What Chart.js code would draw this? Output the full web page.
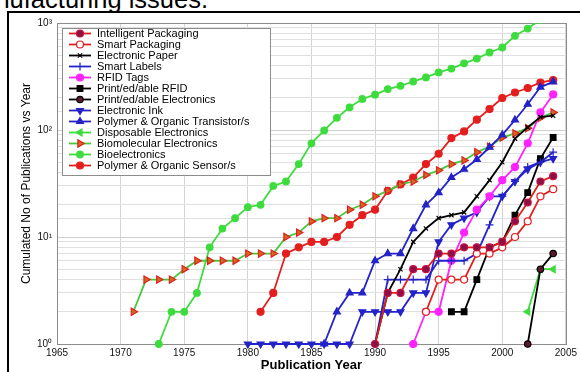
<!DOCTYPE html>
<html><head><meta charset="utf-8">
<script src="https://cdn.jsdelivr.net/npm/chart.js@4.4.0/dist/chart.umd.min.js"></script>
<style>
html,body{margin:0;padding:0;background:#fff;}
body{width:580px;height:372px;overflow:hidden;position:relative;font-family:"Liberation Sans",Arial,sans-serif;}
#top{position:absolute;left:-40px;top:-13px;font-size:25.5px;line-height:25px;white-space:nowrap;color:#000;}
#frame{position:absolute;left:7px;top:11px;width:620px;height:420px;border:2px solid #000;box-sizing:border-box;}
#wrap{position:absolute;left:0;top:0;width:580px;height:372px;}
</style></head><body>
<div id="top">manufacturing issues.</div>
<div id="frame"></div>
<div id="wrap"><canvas id="c" width="580" height="372"></canvas></div>
<script>
// ---- data ----
const seriesNames = ['Intelligent Packaging','Smart Packaging','Electronic Paper','Smart Labels','RFID Tags',
  'Print/ed/able RFID','Print/ed/able Electronics','Electronic Ink','Polymer & Organic Transistor/s',
  'Disposable Electronics','Biomolecular Electronics','Bioelectronics','Polymer & Organic Sensor/s'];
const startYears = [1990,1994,1990,1990,1993,1996,2002,1980,1986,2002,1971,1973,1981];
const intelligentPackaging = [1,3,3,5,5,7,7,8,8,8,9,14,21,33,37];
const smartPackaging = [2,4,4,4,7,7,8,10,14,24,28];
const electronicPaper = [1,3,5,9,12,15,16,17,24,34,50,83,106,132,136];
const smartLabels = [1,4,4,4,4,6,6,6,7,13,24,33,45,50,62];
const rfidTags = [1,2,2,6,11,18,24,34,45,75,146,215];
const printedRfid = [2,2,4,8,9,16,26,54,85];
const printedElectronics = [1,5,7];
const electronicInk = [1,1,1,1,1,1,1,1,1,2,2,2,2,3,3,9,13,15,17,24,24,33,43,50,54];
const transistors = [1,2,3,3,6,7,7,12,20,26,36,43,53,69,90,124,174,252,282];
const disposableElectronics = [2,5,5];
const biomolecularElectronics = [2,4,4,4,5,6,6,6,6,7,7,7,10,11,14,15,15,18,20,24,27,31,33,38,42,48,52,62,70,85,93,104,130,146];
const bioelectronics = [1,2,2,3,8,12,15,19,20,30,33,48,75,99,130,163,195,214,241,259,284,310,345,375,420,465,530,590,759,887,1070,1200];
const sensors = [2,3,7,8,9,9,10,13,16,18,27,31,36,48,60,84,97,125,157,199,224,247,278,293];
const xTickYears = [1965,1970,1975,1980,1985,1990,1995,2000,2005];
const yTickLabels = ['10\u2070','10\u00b9','10\u00b2','10\u00b3'];

const seriesValues = [intelligentPackaging,smartPackaging,electronicPaper,smartLabels,rfidTags,printedRfid,
  printedElectronics,electronicInk,transistors,disposableElectronics,biomolecularElectronics,bioelectronics,sensors];

// ---- styles ----
const RED='#e41e1e', BLUE='#2323c8', GREEN='#3ddc3d', BLACK='#000000', MAG='#ff22ff';
const styles = [
  {line:RED, fill:'#8e0f45', edge:'#c81040', ps:'circle', r:3.5, rot:0},
  {line:RED, fill:'#ffffff', edge:RED, ps:'circle', r:3.5, rot:0},
  {line:BLACK, fill:BLACK, edge:BLACK, ps:'crossRot', r:3, rot:0},
  {line:BLUE, fill:BLUE, edge:BLUE, ps:'cross', r:4, rot:0},
  {line:MAG, fill:MAG, edge:MAG, ps:'circle', r:3.5, rot:0},
  {line:BLACK, fill:BLACK, edge:BLACK, ps:'rect', r:4, rot:0},
  {line:BLACK, fill:'#5a1a2a', edge:BLACK, ps:'circle', r:3.2, rot:0},
  {line:BLUE, fill:BLUE, edge:BLUE, ps:'triangle', r:4, rot:180},
  {line:BLUE, fill:BLUE, edge:BLUE, ps:'triangle', r:4, rot:0},
  {line:GREEN, fill:GREEN, edge:GREEN, ps:'triangle', r:4, rot:-90},
  {line:'#45c83a', fill:'#d2691e', edge:'#e02020', ps:'triangle', r:4.2, rot:90},
  {line:GREEN, fill:GREEN, edge:GREEN, ps:'circle', r:3.3, rot:0},
  {line:RED, fill:RED, edge:RED, ps:'circle', r:3.5, rot:0}
];

const datasets = seriesNames.map((name,i)=>({
  label:name,
  data: seriesValues[i].map((v,k)=>({x:startYears[i]+k, y:v})),
  borderColor:styles[i].line, borderWidth:1.8,
  pointStyle:styles[i].ps, pointRadius:styles[i].r, pointRotation:styles[i].rot,
  pointBackgroundColor:styles[i].fill, pointBorderColor:styles[i].edge, pointBorderWidth:1.2,
  fill:false, tension:0,
  clip:{left:8,top:0,right:8,bottom:8}
}));

const boxPlugin = {
  id:'box',
  beforeDatasetsDraw(chart){
    const a=chart.chartArea, ctx=chart.ctx;
    ctx.save(); ctx.strokeStyle='#8c8c8c'; ctx.lineWidth=1;
    ctx.strokeRect(Math.round(a.left)+0.5, Math.round(a.top)+0.5, Math.round(a.right-a.left), Math.round(a.bottom-a.top));
    ctx.restore();
  }
};

const legendPlugin = {
  id:'mlegend',
  afterDatasetsDraw(chart){
    const ctx=chart.ctx; const x0=62,y0=28,w=208,h=147;
    ctx.save();
    ctx.fillStyle='#fff'; ctx.fillRect(x0,y0,w,h);
    ctx.strokeStyle='#8c8c8c'; ctx.lineWidth=1; ctx.strokeRect(x0+0.5,y0+0.5,w,h);
    chart.data.datasets.forEach((ds,i)=>{
      const y=y0+5.5+i*11;
      ctx.strokeStyle=ds.borderColor; ctx.lineWidth=1.8;
      ctx.beginPath(); ctx.moveTo(69,y); ctx.lineTo(91,y); ctx.stroke();
      ctx.fillStyle=ds.pointBackgroundColor; ctx.strokeStyle=ds.pointBorderColor; ctx.lineWidth=1.2;
      Chart.helpers.drawPoint(ctx,{pointStyle:ds.pointStyle,radius:ds.pointRadius,rotation:ds.pointRotation,borderWidth:1.2},80,y);
      ctx.fillStyle='#000'; ctx.font='11px "Liberation Sans", Arial, sans-serif';
      ctx.textBaseline='middle'; ctx.textAlign='left';
      ctx.fillText(ds.label,97,y+0.5);
    });
    ctx.restore();
  }
};

new Chart(document.getElementById('c'),{
  type:'line',
  data:{datasets},
  plugins:[boxPlugin,legendPlugin],
  options:{
    responsive:false, animation:false, devicePixelRatio:1,
    layout:{padding:{top:23,right:12,left:0,bottom:0}},
    plugins:{legend:{display:false},tooltip:{enabled:false}},
    scales:{
      x:{type:'linear',min:1965,max:2005,
        afterBuildTicks:s=>{s.ticks=xTickYears.map(v=>({value:v}));},
        ticks:{padding:3,autoSkip:false,maxRotation:0,color:'#111',font:{size:10,family:'"Liberation Sans", Arial'},callback:v=>String(v)},
        grid:{color:'#d4d4d4',drawTicks:false},
        border:{color:'#8c8c8c'},
        title:{display:true,text:'Publication Year',color:'#000',font:{size:13,weight:'bold',family:'"Liberation Sans", Arial',lineHeight:1},padding:{top:0,bottom:0}},
        afterFit:s=>{s.height=28;}
      },
      y:{type:'logarithmic',min:1,max:1000,
        ticks:{autoSkip:false,padding:5,color:'#111',font:{size:10,family:'"Liberation Sans", Arial'},
          callback:v=>{const l=Math.log10(v); const r=Math.round(l); return Math.abs(l-r)<1e-9 ? yTickLabels[r] : '';}},
        grid:{color:ctx=>{const v=ctx.tick&&ctx.tick.value; if(!v) return '#d9d9d9'; const l=Math.log10(v); return Math.abs(l-Math.round(l))<1e-9?'#cfcfcf':'#e0e0e0';},drawTicks:false},
        border:{color:'#8c8c8c'},
        title:{display:true,text:'Cumulated No of Publications vs Year',color:'#000',font:{size:12,family:'"Liberation Sans", Arial',lineHeight:1},padding:{top:21,bottom:0}},
        afterFit:s=>{s.width=57;}
      }
    }
  }
});
</script>
</body></html>
